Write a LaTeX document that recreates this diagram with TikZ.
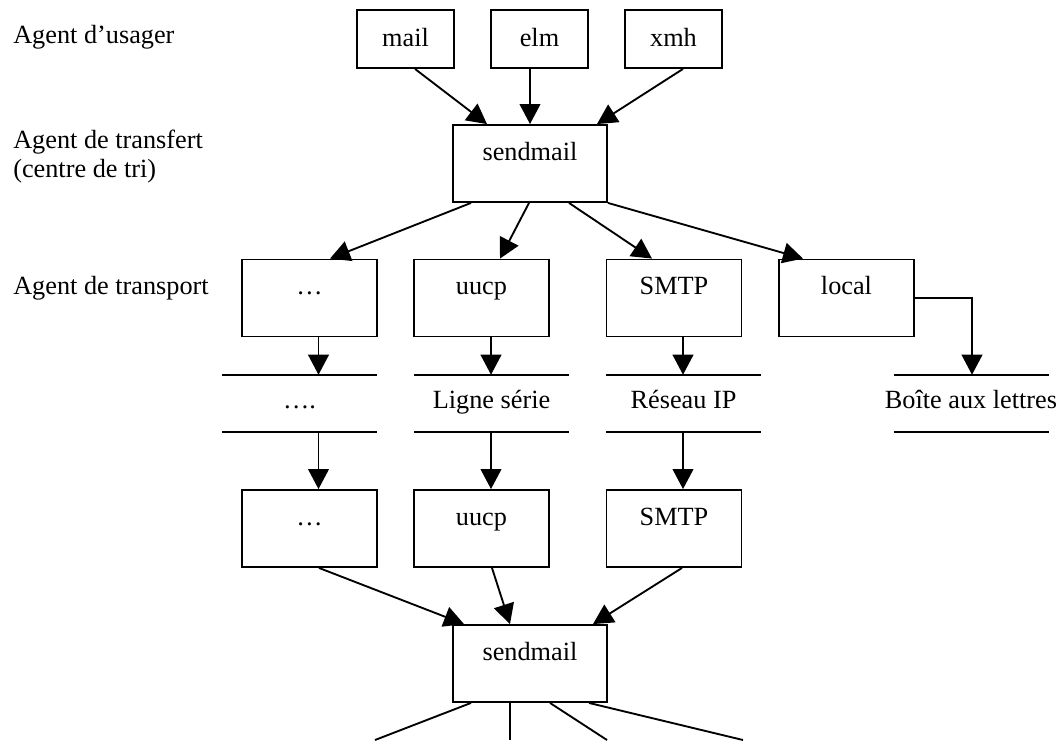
\documentclass[tikz,border=0pt]{standalone}
\usepackage{fontspec}
\setmainfont{Liberation Serif}
\usetikzlibrary{arrows.meta,calc}
\begin{document}
\begin{tikzpicture}[x=0.75pt,y=-0.75pt,
  every node/.style={font=\fontsize{19.7pt}{23pt}\selectfont},
  ln/.style={line width=1.4pt},
  arr/.style={ln,-{Triangle[length=15pt,width=15.5pt]}},
  ubox/.style={draw,ln,minimum width=72.75pt,inner xsep=0pt,inner ysep=0pt,text height=27pt,text depth=16.5pt},
  mbox/.style={draw,ln,minimum width=101.25pt,inner xsep=0pt,inner ysep=0pt,text height=26.25pt,text depth=31.5pt},
  sbox/.style={mbox,minimum width=115.5pt},
  net/.style={minimum width=116.25pt,inner xsep=0pt,inner ysep=0pt,text height=24.75pt,text depth=18pt},
  lab/.style={anchor=base west,inner sep=0pt}]
\useasboundingbox (0,0) rectangle (1063,740);
% layer labels
\node[lab] (l1) at (13,43) {Agent d’usager};
\node[lab] (l2) at (13,148) {Agent de transfert};
\node[lab] (l3) at (13,177) {(centre de tri)};
\node[lab] (l4) at (13,294) {Agent de transport};
% user agents
\node[ubox] (mail) at (405.5,39) {mail};
\node[ubox] (elm) at (539.5,39) {elm};
\node[ubox] (xmh) at (673.5,39) {xmh};
% transfer agent
\node[sbox] (s1) at (530,163.5) {sendmail};
% transport agents
\node[mbox] (td) at (309.5,298) {…};
\node[mbox] (tu) at (481.5,298) {uucp};
\node[mbox] (ts) at (674,298) {SMTP};
\node[mbox] (tl) at (846.5,298) {local};
% media
\node[net] (n1) at (299.5,403.5) {….};
\node[net] (n2) at (491.5,403.5) {Ligne série};
\node[net] (n3) at (683.5,403.5) {Réseau IP};
\node[net] (n4) at (971,403.5) {Boîte aux lettres};
\foreach \n in {n1,n2,n3,n4}{
  \draw[ln] ($(\n.north)+(-77.5,0)$) -- ($(\n.north)+(77.5,0)$);
  \draw[ln] ($(\n.south)+(-77.5,0)$) -- ($(\n.south)+(77.5,0)$);
}
% remote transport agents
\node[mbox] (rd) at (309.5,528.5) {…};
\node[mbox] (ru) at (481.5,528.5) {uucp};
\node[mbox] (rs) at (674,528.5) {SMTP};
% remote transfer agent
\node[sbox] (s2) at (530,663.5) {sendmail};
\coordinate (b1) at (375,740);
\coordinate (b2) at (510,740);
\coordinate (b3) at (607,740);
\coordinate (b4) at (743,740);
% connectors
\draw[arr] ($(mail.south)+(9.5,0)$) -- ($(s1.north)+(-43,0)$);
\draw[arr] ($(elm.south)+(-9.5,0)$) -- (s1.north);
\draw[arr] ($(xmh.south)+(9.5,0)$) -- ($(s1.north)+(67,0)$);
\draw[arr] ($(s1.south)+(-59,0)$) -- ($(td.north)+(20.5,0)$);
\draw[arr] ($(s1.south)+(-1,0)$) -- ($(tu.north)+(18.5,0)$);
\draw[arr] ($(s1.south)+(39,0)$) -- ($(ts.north)+(-22,0)$);
\draw[arr] (s1.south east) -- ($(tl.north)+(-43.5,0)$);
\draw[arr] ($(td.south)+(9,0)$) -- ($(n1.north)+(19,0)$);
\draw[arr] ($(tu.south)+(9.5,0)$) -- ($(n2.north)+(-0.5,0)$);
\draw[arr] ($(ts.south)+(9,0)$) -- ($(n3.north)+(-0.5,0)$);
\draw[arr] (tl.east) -| ($(n4.north)+(1,0)$);
\draw[arr] ($(n1.south)+(19,0)$) -- ($(rd.north)+(9,0)$);
\draw[arr] ($(n2.south)+(-0.5,0)$) -- ($(ru.north)+(9.5,0)$);
\draw[arr] ($(n3.south)+(-0.5,0)$) -- ($(rs.north)+(9,0)$);
\draw[arr] ($(rd.south)+(9.5,0)$) -- ($(s2.north)+(-66,0)$);
\draw[arr] ($(ru.south)+(10.5,0)$) -- ($(s2.north)+(-20,0)$);
\draw[arr] ($(rs.south)+(8,0)$) -- ($(s2.north)+(63,0)$);
\draw[ln] ($(s2.south)+(-59,0)$) -- (b1);
\draw[ln] ($(s2.south)+(-20,0)$) -- (b2);
\draw[ln] ($(s2.south)+(20,0)$) -- (b3);
\draw[ln] ($(s2.south)+(59,0)$) -- (b4);
\end{tikzpicture}
\end{document}
